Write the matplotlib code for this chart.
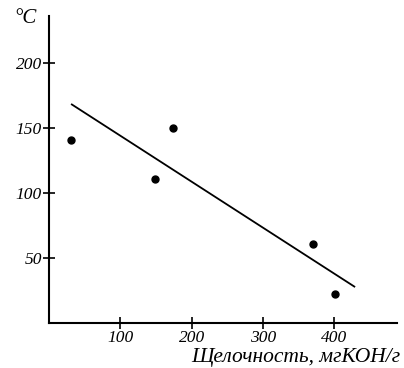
import numpy as np
import matplotlib
matplotlib.use("Agg")
import matplotlib.pyplot as plt

# data
alkalinity = [31, 149, 174, 370, 401]      # mgKOH/g
temperature = [141, 111, 150, 61, 22]      # deg C
trend_x = [32, 428]
trend_y = [168, 28]

x_ticks = [100, 200, 300, 400]
y_ticks = [50, 100, 150, 200]

plt.rcParams['font.family'] = ['Liberation Serif', 'DejaVu Serif']

fig = plt.figure(figsize=(4.04, 3.68), dpi=100)
ax = fig.add_axes([0.1213, 0.1223, 0.8617, 0.8342])

ax.plot(trend_x, trend_y, color='black', lw=1.3)
ax.plot(alkalinity, temperature, 'o', color='black', markersize=5)

ax.set_xlim(0, 488)
ax.set_ylim(0, 236)
ax.set_xticks(x_ticks)
ax.set_yticks(y_ticks)
ax.tick_params(direction='inout', length=8, width=1.2, labelsize=12.5, pad=1)
for lab in ax.get_xticklabels() + ax.get_yticklabels():
    lab.set_fontstyle('italic')

for s in ['top', 'right']:
    ax.spines[s].set_visible(False)
for s in ['left', 'bottom']:
    ax.spines[s].set_linewidth(1.5)

fig.text(0.035, 0.95, '°C', fontsize=15, fontstyle='italic', ha='left', va='center')
fig.text(0.99, 0.028, 'Щелочность, мгКОН/г', fontsize=15.5, fontstyle='italic',
         ha='right', va='center')

fig.savefig('out.png', dpi=100)
